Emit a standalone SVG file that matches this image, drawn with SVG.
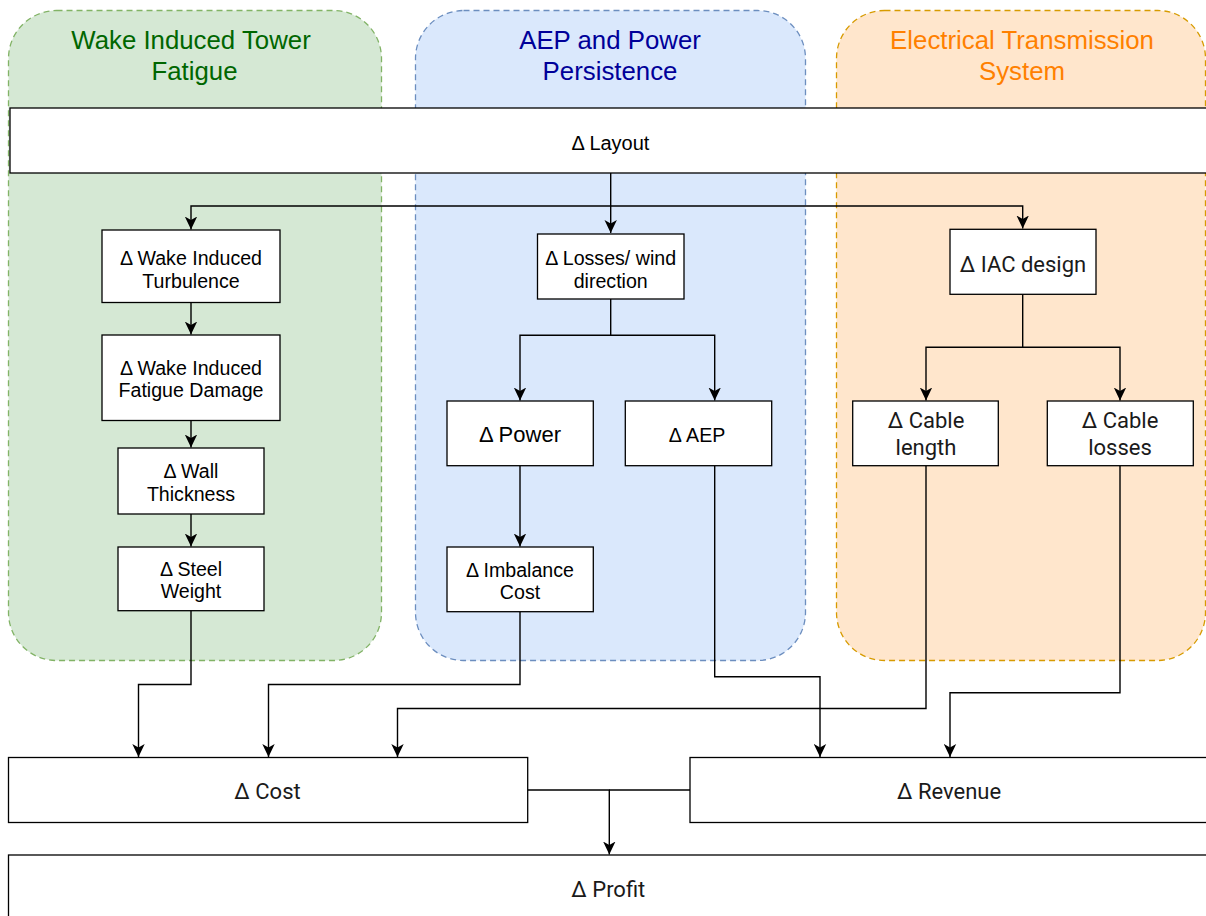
<svg xmlns="http://www.w3.org/2000/svg" width="1206" height="916" viewBox="0 0 1206 916">
  <style>
    .box { fill: #ffffff; stroke: #000000; stroke-width: 1.3; }
    .lane { stroke-width: 1.3; stroke-dasharray: 6 4; }
    .t { font-family: "Liberation Sans", Arial, sans-serif; font-size: 19.6px; fill: #000000; text-anchor: middle; }
    .r { font-family: Roboto, "Liberation Sans", sans-serif; font-size: 22px; fill: #1a1a1a; text-anchor: middle; }
    .title { font-family: "Liberation Sans", Arial, sans-serif; font-size: 25.8px; text-anchor: middle; }
    .edge { fill: none; stroke: #000000; stroke-width: 1.4; }
  </style>
  <defs>
    <marker id="arrow" viewBox="0 0 13 13" refX="13" refY="6.5" markerWidth="13" markerHeight="13" markerUnits="userSpaceOnUse" orient="auto">
      <path d="M0,0.3 L13,6.5 L0,12.7 L3.5,6.5 Z" fill="#000000"/>
    </marker>
  </defs>
  <rect width="1206" height="916" fill="#ffffff"/>

  <!-- swimlane containers -->
  <g id="lane-fatigue">
    <rect class="lane" x="8.5" y="10.5" width="373" height="650" rx="48" fill="#d5e8d4" stroke="#82b366"/>
    <text class="title" fill="#006600" x="191" y="49.3">Wake Induced Tower</text>
    <text class="title" fill="#006600" x="194.5" y="80">Fatigue</text>
  </g>
  <g id="lane-aep">
    <rect class="lane" x="415.5" y="10.5" width="390" height="650" rx="48" fill="#dae8fc" stroke="#6c8ebf"/>
    <text class="title" fill="#000099" x="610" y="49.3">AEP and Power</text>
    <text class="title" fill="#000099" x="610" y="80">Persistence</text>
  </g>
  <g id="lane-electrical">
    <rect class="lane" x="836.5" y="10.5" width="369" height="650" rx="48" fill="#ffe6cc" stroke="#d79b00"/>
    <text class="title" fill="#ff8000" x="1022" y="49.3">Electrical Transmission</text>
    <text class="title" fill="#ff8000" x="1022" y="80">System</text>
  </g>

  <!-- top-level driver -->
  <g id="layout">
    <rect class="box" x="10" y="108" width="1204" height="65"/>
    <text class="t" style="font-size:20px" x="610.5" y="150">Δ Layout</text>
  </g>

  <!-- connectors -->
  <g id="connectors">
    <path class="edge" d="M610.7,173 L610.7,233" marker-end="url(#arrow)"/>
    <path class="edge" d="M610.7,206 L191,206 L191,229.5" marker-end="url(#arrow)"/>
    <path class="edge" d="M610.7,206 L1022.7,206 L1022.7,228.5" marker-end="url(#arrow)"/>

    <path class="edge" d="M191,302.5 L191,334.5" marker-end="url(#arrow)"/>
    <path class="edge" d="M191,420.5 L191,447.5" marker-end="url(#arrow)"/>
    <path class="edge" d="M191,514 L191,546.5" marker-end="url(#arrow)"/>

    <path class="edge" d="M610.7,299 L610.7,335.3 L520,335.3 L520,400.5" marker-end="url(#arrow)"/>
    <path class="edge" d="M610.7,335.3 L714.7,335.3 L714.7,400.5" marker-end="url(#arrow)"/>
    <path class="edge" d="M520,465.7 L520,546.5" marker-end="url(#arrow)"/>

    <path class="edge" d="M1022.7,294.3 L1022.7,347.3 L926,347.3 L926,400.5" marker-end="url(#arrow)"/>
    <path class="edge" d="M1022.7,347.3 L1120,347.3 L1120,400.5" marker-end="url(#arrow)"/>

    <path class="edge" d="M191,610.7 L191,684.5 L138.5,684.5 L138.5,757" marker-end="url(#arrow)"/>
    <path class="edge" d="M520,611.7 L520,684.5 L268.5,684.5 L268.5,757" marker-end="url(#arrow)"/>
    <path class="edge" d="M926,465.7 L926,708.5 L397.5,708.5 L397.5,757" marker-end="url(#arrow)"/>
    <path class="edge" d="M714.7,465.7 L714.7,676.7 L820,676.7 L820,757" marker-end="url(#arrow)"/>
    <path class="edge" d="M1120,465.7 L1120,692.7 L950,692.7 L950,757" marker-end="url(#arrow)"/>

    <path class="edge" d="M527.7,790 L609.3,790 L609.3,854.5" marker-end="url(#arrow)"/>
    <path class="edge" d="M690,790 L609.3,790"/>
  </g>

  <!-- fatigue chain -->
  <g id="wake-turbulence">
    <rect class="box" x="102" y="230" width="178" height="72.5"/>
    <text class="t" x="191" y="265">Δ Wake Induced</text>
    <text class="t" x="191" y="287.5">Turbulence</text>
  </g>
  <g id="fatigue-damage">
    <rect class="box" x="102" y="335" width="178" height="85.5"/>
    <text class="t" x="191" y="375">Δ Wake Induced</text>
    <text class="t" x="191" y="397.3">Fatigue Damage</text>
  </g>
  <g id="wall-thickness">
    <rect class="box" x="118" y="448" width="146" height="66"/>
    <text class="t" x="191" y="478.3">Δ Wall</text>
    <text class="t" x="191" y="500.7">Thickness</text>
  </g>
  <g id="steel-weight">
    <rect class="box" x="118" y="547" width="146" height="63.7"/>
    <text class="t" x="191" y="576">Δ Steel</text>
    <text class="t" x="191" y="598.3">Weight</text>
  </g>

  <!-- AEP chain -->
  <g id="losses-wind">
    <rect class="box" x="537.5" y="234" width="146.5" height="65"/>
    <text class="t" x="610.7" y="265">Δ Losses/ wind</text>
    <text class="t" x="610.7" y="288.3">direction</text>
  </g>
  <g id="power">
    <rect class="box" x="447" y="401" width="146.3" height="64.7"/>
    <text class="t" style="font-size:22px" x="520" y="441.7">Δ Power</text>
  </g>
  <g id="aep">
    <rect class="box" x="625.3" y="401" width="146.4" height="64.7"/>
    <text class="t" x="697" y="441.7">Δ AEP</text>
  </g>
  <g id="imbalance-cost">
    <rect class="box" x="447" y="547" width="146.3" height="64.7"/>
    <text class="t" x="520" y="576.7">Δ Imbalance</text>
    <text class="t" x="520" y="599.3">Cost</text>
  </g>

  <!-- electrical chain -->
  <g id="iac-design">
    <rect class="box" x="950" y="229.3" width="146" height="65"/>
    <text class="r" x="1023" y="271.7">Δ IAC design</text>
  </g>
  <g id="cable-length">
    <rect class="box" x="852.7" y="401" width="145.6" height="64.7"/>
    <text class="r" x="926" y="428.3">Δ Cable</text>
    <text class="r" x="926" y="455">length</text>
  </g>
  <g id="cable-losses">
    <rect class="box" x="1047.3" y="401" width="146" height="64.7"/>
    <text class="r" x="1120" y="428.3">Δ Cable</text>
    <text class="r" x="1120" y="455">losses</text>
  </g>

  <!-- economic outcome -->
  <g id="cost">
    <rect class="box" x="8.5" y="757.5" width="519.2" height="65"/>
    <text class="r" x="267.5" y="799.3">Δ Cost</text>
  </g>
  <g id="revenue">
    <rect class="box" x="690" y="757.5" width="520" height="65"/>
    <text class="r" x="949" y="799.3">Δ Revenue</text>
  </g>
  <g id="profit">
    <rect class="box" x="8.5" y="855" width="1202" height="70"/>
    <text class="r" x="608.3" y="896.7">Δ Profit</text>
  </g>
</svg>
